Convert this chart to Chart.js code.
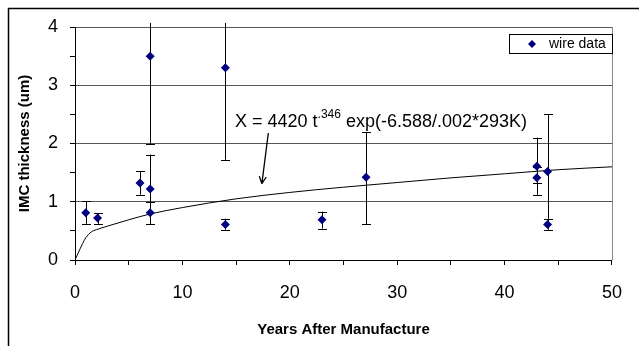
<!DOCTYPE html>
<html lang="en">
<head>
<meta charset="UTF-8">
<title>IMC thickness vs years after manufacture</title>
<script src="https://cdn.jsdelivr.net/npm/chart.js@4.4.1/dist/chart.umd.min.js"></script>
<style>
    body { margin: 0; background: #ffffff; }
    .wrap { width: 639px; height: 346px; position: relative; }
</style>
</head>
<body>
<div class="wrap"><canvas id="imcChart"></canvas></div>
<script>
    // --- measured wire data (years, thickness um) with error bar ends ---
    const wireYears = [1, 2.1, 6.05, 7, 7, 7, 14, 14, 23, 27.1, 43, 43, 44, 44];
    const wireThick = [0.81, 0.72, 1.32, 3.5, 1.22, 0.81, 3.3, 0.61, 0.69, 1.42, 1.61, 1.41, 1.52, 0.61];
    const errLow    = [0.62, 0.62, 1.12, 2.0, 0.62, 0.62, 1.72, 0.52, 0.54, 0.61, 1.32, 1.12, 0.71, 0.52];
    const errHigh   = [1.01, 0.8, 1.52, 4.07, 1.81, 1.0, 4.07, 0.71, 0.83, 2.19, 2.1, 1.6, 2.5, 0.71];

    // --- model curve X = 4420 t^.346 exp(...) ---
    const modelYears = [0, 0.3, 0.7, 1, 1.5, 2, 3, 5, 7, 10, 15, 20, 25, 30, 35, 40, 45, 50];
    const modelThick = [0, 0.12, 0.28, 0.38, 0.48, 0.52, 0.58, 0.69, 0.79, 0.9, 1.05, 1.16, 1.25, 1.33, 1.41, 1.48, 1.55, 1.6];

    // annotation anchor (data units)
    const noteAt = { x: 14.9, y: 2.28 };
    const arrowFrom = { x: 18.0, y: 2.18 };
    const arrowTo = { x: 17.4, y: 1.31 };

    const FONT = "'Liberation Sans', Arial, Helvetica, sans-serif";
    const NAVY = '#000080';

    const errorBars = {
        id: 'errorBars',
        beforeDatasetsDraw(chart) {
            const { ctx, scales: { x, y } } = chart;
            ctx.save();
            ctx.strokeStyle = '#000';
            ctx.lineWidth = 1;
            wireYears.forEach((t, i) => {
                const px = Math.round(x.getPixelForValue(t)) + 0.5;
                const yLo = y.getPixelForValue(errLow[i]);
                const yHi = y.getPixelForValue(errHigh[i]);
                ctx.beginPath();
                ctx.moveTo(px, yLo);
                ctx.lineTo(px, yHi);
                [errLow[i], errHigh[i]].forEach(v => {
                    if (v <= 4) {
                        const py = Math.round(y.getPixelForValue(v)) + 0.5;
                        ctx.moveTo(px - 4.5, py);
                        ctx.lineTo(px + 4.5, py);
                    }
                });
                ctx.stroke();
            });
            ctx.restore();
        }
    };

    const extras = {
        id: 'extras',
        beforeDraw(chart) {
            const { ctx, width, height } = chart;
            ctx.save();
            ctx.fillStyle = '#fff';
            ctx.fillRect(0, 0, width, height);
            ctx.strokeStyle = '#000';
            ctx.lineWidth = 1.5;
            ctx.beginPath();
            ctx.moveTo(8.5, height);
            ctx.lineTo(8.5, 8.5);
            ctx.lineTo(width, 8.5);
            ctx.stroke();
            ctx.restore();
        },
        afterDraw(chart) {
            const { ctx, chartArea: a, scales: { x, y } } = chart;
            ctx.save();
            // plot frame, right side
            ctx.strokeStyle = '#888';
            ctx.lineWidth = 1;
            ctx.beginPath();
            ctx.moveTo(Math.round(a.right) + 0.5, a.top);
            ctx.lineTo(Math.round(a.right) + 0.5, a.bottom);
            ctx.stroke();

            // equation text with superscript
            ctx.fillStyle = '#000';
            ctx.textBaseline = 'alphabetic';
            let tx = x.getPixelForValue(noteAt.x);
            const ty = y.getPixelForValue(noteAt.y);
            ctx.font = '18px ' + FONT;
            const part1 = 'X = 4420 t';
            ctx.fillText(part1, tx, ty);
            tx += ctx.measureText(part1).width;
            ctx.font = '12px ' + FONT;
            ctx.fillText('.346', tx, ty - 9);
            tx += ctx.measureText('.346').width;
            ctx.font = '18px ' + FONT;
            ctx.fillText(' exp(-6.588/.002*293K)', tx, ty);

            // arrow
            const x0 = x.getPixelForValue(arrowFrom.x), y0 = y.getPixelForValue(arrowFrom.y);
            const x1 = x.getPixelForValue(arrowTo.x), y1 = y.getPixelForValue(arrowTo.y);
            const ang = Math.atan2(y1 - y0, x1 - x0);
            ctx.strokeStyle = '#000';
            ctx.lineWidth = 1.3;
            ctx.beginPath();
            ctx.moveTo(x0, y0);
            ctx.lineTo(x1, y1);
            [ang + Math.PI - 0.45, ang + Math.PI + 0.45].forEach(b => {
                ctx.moveTo(x1, y1);
                ctx.lineTo(x1 + 8 * Math.cos(b), y1 + 8 * Math.sin(b));
            });
            ctx.stroke();

            // legend box
            ctx.lineWidth = 1;
            ctx.fillStyle = '#fff';
            ctx.fillRect(509.5, 34.5, 103, 19);
            ctx.strokeStyle = '#000';
            ctx.strokeRect(509.5, 34.5, 103, 19);
            ctx.fillStyle = NAVY;
            ctx.beginPath();
            ctx.moveTo(532, 40);
            ctx.lineTo(536, 44);
            ctx.lineTo(532, 48);
            ctx.lineTo(528, 44);
            ctx.closePath();
            ctx.fill();
            ctx.fillStyle = '#000';
            ctx.font = '14px ' + FONT;
            ctx.textBaseline = 'middle';
            ctx.fillText('wire data', 549, 44);
            ctx.restore();
        }
    };

    const ctx = document.getElementById('imcChart').getContext('2d');
    new Chart(ctx, {
        type: 'scatter',
        data: {
            datasets: [
                {
                    label: 'wire data',
                    data: wireYears.map((t, i) => ({ x: t, y: wireThick[i] })),
                    pointStyle: 'rectRot',
                    pointRadius: 4.5,
                    pointBackgroundColor: NAVY,
                    pointBorderColor: NAVY,
                    pointBorderWidth: 0,
                    order: 0
                },
                {
                    label: 'model',
                    data: modelYears.map((t, i) => ({ x: t, y: modelThick[i] })),
                    showLine: true,
                    borderColor: '#000',
                    borderWidth: 1,
                    pointRadius: 0,
                    cubicInterpolationMode: 'monotone',
                    order: 1
                }
            ]
        },
        options: {
            responsive: true,
            maintainAspectRatio: false,
            animation: false,
            events: [],
            layout: { padding: { top: 27, right: 22, left: 0, bottom: 0 } },
            plugins: {
                legend: { display: false },
                tooltip: { enabled: false }
            },
            scales: {
                x: {
                    type: 'linear',
                    min: 0,
                    max: 50,
                    afterFit(s) { s.height = 86; },
                    ticks: {
                        stepSize: 5,
                        autoSkip: false,
                        maxRotation: 0,
                        padding: 17,
                        color: '#000',
                        font: { family: FONT, size: 18 },
                        callback: v => (v % 10 === 0 ? v : '')
                    },
                    grid: { drawOnChartArea: false, tickLength: 5, tickColor: '#000' },
                    border: { color: '#000', width: 1 },
                    title: {
                        display: true,
                        text: 'Years After Manufacture',
                        color: '#000',
                        font: { family: FONT, size: 15, weight: 'bold' },
                        padding: { top: 0, bottom: 7 }
                    }
                },
                y: {
                    min: 0,
                    max: 4,
                    afterFit(s) { s.width = 75; },
                    ticks: {
                        stepSize: 0.5,
                        autoSkip: false,
                        padding: 12,
                        color: '#000',
                        font: { family: FONT, size: 18 },
                        callback: v => (v % 1 === 0 ? v : '')
                    },
                    grid: {
                        tickLength: 5,
                        tickColor: '#000',
                        color: c => (c.tick && c.tick.value % 1 === 0 ? '#555' : 'rgba(0,0,0,0)')
                    },
                    border: { color: '#000', width: 1 },
                    title: {
                        display: true,
                        text: 'IMC thickness (um)',
                        color: '#000',
                        font: { family: FONT, size: 15, weight: 'bold' },
                        padding: { top: 16, bottom: 0 }
                    }
                }
            }
        },
        plugins: [extras, errorBars]
    });
</script>
</body>
</html>
